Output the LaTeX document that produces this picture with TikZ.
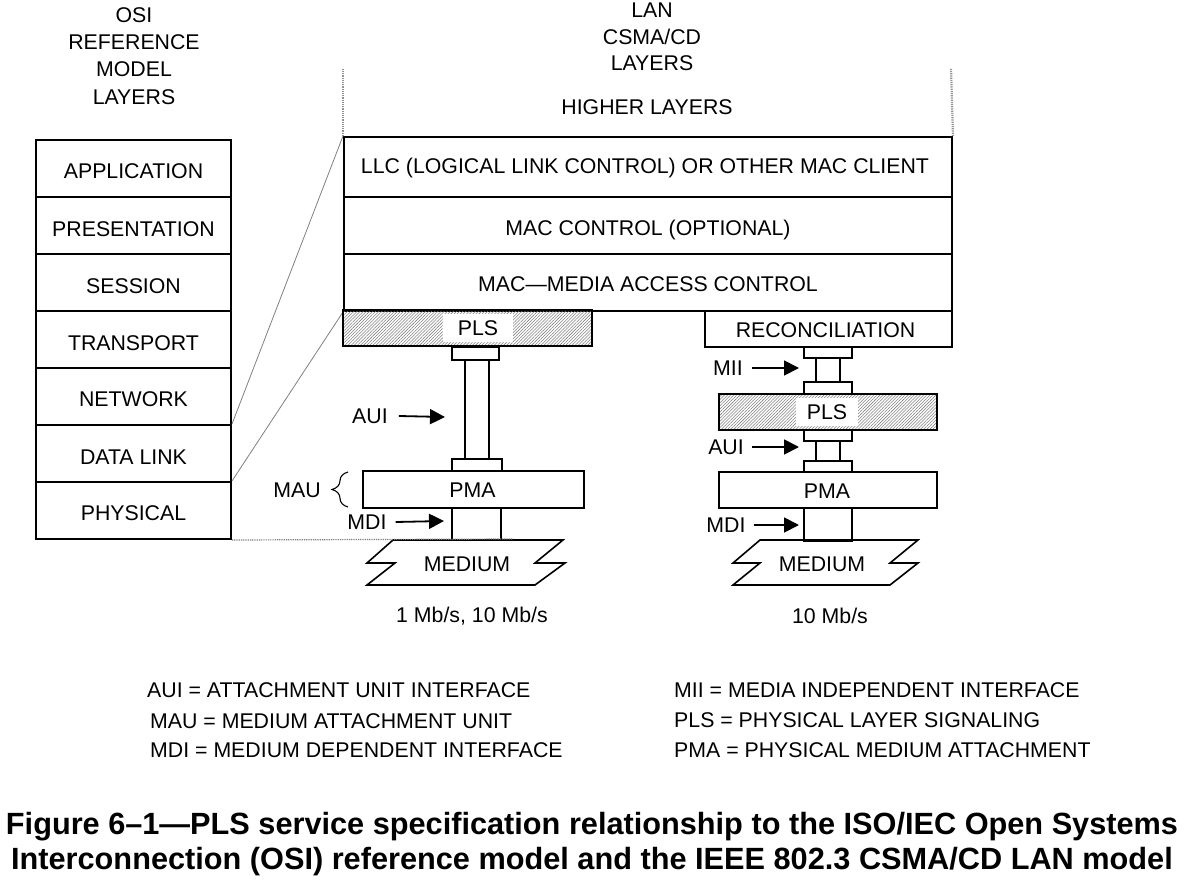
\documentclass[tikz,border=0pt]{standalone}
\usepackage{fontspec}
\setmainfont{Liberation Sans}
\usetikzlibrary{patterns.meta,arrows.meta,decorations.pathreplacing}
\begin{document}
\begin{tikzpicture}[x=1pt,y=-1pt,
  every node/.style={font=\fontsize{21.3}{26}\selectfont, inner sep=0pt},
  box/.style={draw, line width=2pt, rectangle, anchor=north west},
  hatchbox/.style={box, pattern={Lines[angle=45,distance=2.2pt,line width=0.55pt]}, pattern color=gray},
  conn/.style={draw, line width=2pt, rectangle, anchor=north west, fill=white},
  plslabel/.style={fill=white, minimum height=28pt},
  arr/.style={line width=1.8pt, -{Triangle[length=15pt,width=15pt]}},
  grayline/.style={draw=gray, line width=0.8pt},
  dotline/.style={draw=gray, line width=1.2pt, dash pattern=on 1pt off 0.8pt},
  vdot/.style={draw=gray!85, line width=2.2pt, dash pattern=on 1.2pt off 1pt},
  legend/.style={anchor=west},
  medium/.style={draw, line width=1.6pt, line join=miter},
  captext/.style={font=\fontsize{30.7}{36}\selectfont\bfseries}
]
\useasboundingbox (0,0) rectangle (1184,880);

% ---------- OSI column ----------
\node (osititle) at (134,56) [align=center, font=\fontsize{21.3}{27.3}\selectfont] {OSI\\REFERENCE\\MODEL\\LAYERS};
\node[box, minimum width=195pt, minimum height=57pt] (app)  at (35,139) {};
\node[box, minimum width=195pt, minimum height=57pt] (pres) at (35,196) {};
\node[box, minimum width=195pt, minimum height=57pt] (sess) at (35,253) {};
\node[box, minimum width=195pt, minimum height=57pt] (trans) at (35,310) {};
\node[box, minimum width=195pt, minimum height=57pt] (net)  at (35,367) {};
\node[box, minimum width=195pt, minimum height=57pt] (dl)   at (35,424) {};
\node[box, minimum width=195pt, minimum height=57pt] (phy)  at (35,481) {};
\node at ([yshift=-3pt]app.center)  {APPLICATION};
\node at ([yshift=-4pt]pres.center) {PRESENTATION};
\node at ([yshift=-4pt]sess.center) {SESSION};
\node at ([yshift=-4pt]trans.center){TRANSPORT};
\node at ([yshift=-3pt]net.center)  {NETWORK};
\node at ([yshift=-4pt]dl.center)   {DATA LINK};
\node at ([yshift=-3pt]phy.center)  {PHYSICAL};

% ---------- LAN column ----------
\node (lantitle) at (652,37) [align=center, font=\fontsize{21.3}{26.5}\selectfont] {LAN\\CSMA/CD\\LAYERS};
\node (higher) at (647,107) {HIGHER LAYERS};
\node[box, minimum width=608pt, minimum height=60pt] (llc) at (343,136) {};
\node[box, minimum width=608pt, minimum height=57pt] (macctl) at (343,196) {};
\node[box, minimum width=608pt, minimum height=57pt] (mac) at (343,253) {};
\node at ([xshift=-3pt,yshift=-1pt]llc.center) {LLC (LOGICAL LINK CONTROL) OR OTHER MAC CLIENT};
\node at ([yshift=-4pt]macctl.center) {MAC CONTROL (OPTIONAL)};
\node at ([yshift=-2pt]mac.center) {MAC---MEDIA ACCESS CONTROL};

\coordinate (vtopL) at (343,68);
\coordinate (vtopR) at (951,68);
\draw[vdot] (llc.north west) -- (vtopL);
\draw[vdot] (llc.north east) -- (vtopR);

% OSI to LAN mapping lines
\draw[grayline] (dl.north east) -- (llc.north west);
\draw[grayline] (phy.north east) -- (mac.south west);

% ---------- left stack ----------
\node[hatchbox, minimum width=249pt, minimum height=36pt] (plsL) at (343,310) {};
\node[plslabel, minimum width=70pt] (plsLt) at (478,328) {PLS};
\node[conn, minimum width=47pt, minimum height=13pt] (cLa) at (451,346) {};
\node[conn, minimum width=24pt, minimum height=99pt] (cableL) at (464,359) {};
\node[conn, minimum width=50pt, minimum height=12pt] (cLb) at (451,458) {};
\node[box, minimum width=221pt, minimum height=37pt] (pmaL) at (362,470) {};
\node at ([xshift=-1pt,yshift=-1pt]pmaL.center) {PMA};
\node[conn, minimum width=49pt, minimum height=32pt] (mdiL) at (451,507) {};

\node (auiLt) at (370,416) {AUI};
\coordinate (auiLtip) at (445,417);
\draw[arr] ([xshift=11pt]auiLt.east) -- (auiLtip);
\node (mauLt) at (297,490) {MAU};
\coordinate (braceB) at (348,507);
\coordinate (braceT) at (348,472);
\draw[decorate, decoration={brace, amplitude=16pt}, line width=1.1pt] (braceB) -- (braceT);
\node (mdiLt) at (367,522) {MDI};
\coordinate (mdiLtip) at (444,521);
\draw[arr] ([xshift=9pt]mdiLt.east) -- (mdiLtip);

% medium left
\draw[medium] (393,540) -- (563,540) -- (535,563) -- (565,563) -- (535,585) -- (367,585) -- (395,563) -- (367,563) -- cycle;
\node (medL) at (467,564) {MEDIUM};
\coordinate (dotEnd) at (513,539);
\draw[dotline] (phy.south east) -- (dotEnd);

\node (spdL) at (472,616) {1 Mb/s, 10 Mb/s};

% ---------- right stack ----------
\node[box, minimum width=247pt, minimum height=36pt] (rec) at (704,310) {};
\node at ([xshift=-3pt,yshift=-1pt]rec.center) {RECONCILIATION};
\node[conn, minimum width=48pt, minimum height=11pt] (cRa) at (803,346) {};
\node[conn, minimum width=24pt, minimum height=24pt] (cableR1) at (815,357) {};
\node[conn, minimum width=48pt, minimum height=12pt] (cRb) at (803,381) {};
\node[hatchbox, minimum width=218pt, minimum height=36pt] (plsR) at (718,393) {};
\node[plslabel, minimum width=62pt] (plsRt) at (827,412) {PLS};
\node[conn, minimum width=48pt, minimum height=11pt] (cRc) at (803,429) {};
\node[conn, minimum width=24pt, minimum height=20pt] (cableR2) at (815,440) {};
\node[conn, minimum width=48pt, minimum height=11pt] (cRd) at (803,460) {};
\node[box, minimum width=218pt, minimum height=36pt] (pmaR) at (718,471) {};
\node at ([xshift=-1pt,yshift=-1pt]pmaR.center) {PMA};
\node[conn, minimum width=48pt, minimum height=33pt] (mdiR) at (803,507) {};

\node (miiRt) at (728,368) {MII};
\coordinate (miiRtip) at (799,368);
\draw[arr] ([xshift=9pt]miiRt.east) -- (miiRtip);
\node (auiRt) at (726,447) {AUI};
\coordinate (auiRtip) at (799,447);
\draw[arr] ([xshift=8pt]auiRt.east) -- (auiRtip);
\node (mdiRt) at (726,525) {MDI};
\coordinate (mdiRtip) at (799,525);
\draw[arr] ([xshift=8pt]mdiRt.east) -- (mdiRtip);

% medium right
\draw[medium] (760,540) -- (918,540) -- (890,563) -- (918,563) -- (890,585) -- (733,585) -- (760,563) -- (733,563) -- cycle;
\node (medR) at (822,564) {MEDIUM};

\node (spdR) at (830,616) {10 Mb/s};

% ---------- legend ----------
\node[legend] (lg1) at (147,690) {AUI = ATTACHMENT UNIT INTERFACE};
\node[legend] (lg2) at (150,721) {MAU = MEDIUM ATTACHMENT UNIT};
\node[legend] (lg3) at (150,750) {MDI = MEDIUM DEPENDENT INTERFACE};
\node[legend] (lg4) at (674,690) {MII = MEDIA INDEPENDENT INTERFACE};
\node[legend] (lg5) at (674,720) {PLS = PHYSICAL LAYER SIGNALING};
\node[legend] (lg6) at (674,750) {PMA = PHYSICAL MEDIUM ATTACHMENT};

% ---------- caption ----------
\node[captext] (cap1) at (592,827) {Figure 6--1---PLS service specification relationship to the ISO/IEC Open Systems};
\node[captext] (cap2) at (592,862) {Interconnection (OSI) reference model and the IEEE 802.3 CSMA/CD LAN model};
\end{tikzpicture}
\end{document}
